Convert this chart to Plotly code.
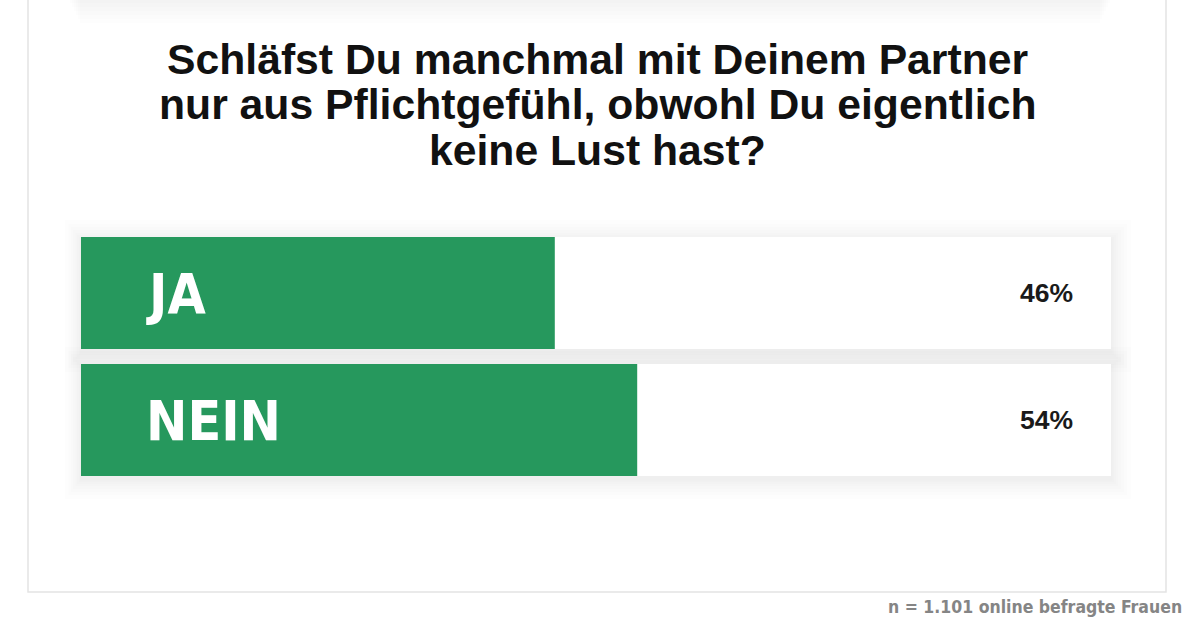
import plotly.graph_objects as go

# survey data
answers = ["JA", "NEIN"]
shares = [46, 54]
scale_max = [100, 100]
title_lines = [
    "Schläfst Du manchmal mit Deinem Partner",
    "nur aus Pflichtgefühl, obwohl Du eigentlich",
    "keine Lust hast?",
]
footnote = "n = 1.101 online befragte Frauen"

W, H = 1200, 627
GREEN = "#26985d"
BAR_W = 0.882
PX_X = 10.3     # pixels per percent point
PX_Y = 127      # pixels per category step
NARROW = "DejaVu Sans Condensed, Liberation Sans Narrow, sans-serif"
SANS = "Liberation Sans, Arial, sans-serif"


def py(px):
    # pixel row -> paper fraction
    return 1 - px / H


fig = go.Figure()

# soft shadow behind the white tracks, a few faint layers
for s in [20, 16, 13, 10, 7, 5, 3, 1.5]:
    grow = s / PX_Y
    fig.add_trace(go.Bar(
        y=answers, x=[m + s * 1.8 / PX_X for m in scale_max], base=-s * 0.8 / PX_X,
        orientation="h", width=BAR_W + 2 * grow,
        offset=-(BAR_W / 2 + grow) + 3 / PX_Y,
        marker=dict(color="rgba(40,40,40,0.008)", line=dict(width=0)),
        hoverinfo="skip", showlegend=False,
    ))

# white tracks
fig.add_trace(go.Bar(
    y=answers, x=scale_max, orientation="h", width=BAR_W,
    marker=dict(color="white", line=dict(width=0)),
    hoverinfo="skip", showlegend=False,
))

# green share bars
fig.add_trace(go.Bar(
    y=answers, x=shares, orientation="h", width=BAR_W,
    marker=dict(color=GREEN, line=dict(width=0)),
    showlegend=False,
))

annotations = []
for a, v in zip(answers, shares):
    annotations.append(dict(
        x=0, y=a, xref="x", yref="y", text=a, showarrow=False,
        xanchor="left", yanchor="middle", xshift=63, yshift=-1,
        font=dict(family=NARROW, size=55, color="white", weight="bold"),
    ))
    annotations.append(dict(
        x=100, y=a, xref="x", yref="y", text=f"{v}%", showarrow=False,
        xanchor="right", yanchor="middle", xshift=-36,
        font=dict(family=SANS, size=26.5, color="#1a1a1a", weight="bold"),
    ))

for i, line in enumerate(title_lines):
    annotations.append(dict(
        x=597 / W, y=py(59 + i * 45.5), xref="paper", yref="paper",
        text=line, showarrow=False, xanchor="center", yanchor="middle",
        font=dict(family=SANS, size=42.7, color="#111111", weight="bold"),
    ))

annotations.append(dict(
    x=1184 / W, y=py(607), xref="paper", yref="paper", text=footnote,
    showarrow=False, xanchor="right", yanchor="middle",
    font=dict(family=NARROW, size=17.5, color="#858585", weight="bold"),
))

shapes = []
# faint shadow band at the very top
for k in range(6):
    shapes.append(dict(
        type="rect", xref="paper", yref="paper", layer="below",
        x0=(70 + k * 2) / W, x1=(1110 - k * 2) / W, y0=py(3 + k * 4), y1=1.0,
        fillcolor="rgba(0,0,0,0.009)", line=dict(width=0),
    ))
# outer frame
shapes.append(dict(
    type="rect", xref="paper", yref="paper", layer="below",
    x0=28 / W, x1=1166 / W, y0=py(592), y1=1.02,
    fillcolor="rgba(0,0,0,0)", line=dict(color="#e4e4e4", width=1.5),
))

# axes are a bit wider than the tracks so the shadow is not clipped
x_left, x_right = 50, 1150
y_top, y_bot = 200, 515
fig.update_layout(
    width=W, height=H,
    margin=dict(l=0, r=0, t=0, b=0),
    paper_bgcolor="white", plot_bgcolor="rgba(0,0,0,0)",
    barmode="overlay",
    showlegend=False,
    xaxis=dict(domain=[x_left / W, x_right / W],
               range=[-(81 - x_left) / PX_X, 100 + (x_right - 1111) / PX_X],
               visible=False, fixedrange=True),
    yaxis=dict(domain=[py(y_bot), py(y_top)],
               range=[1 + (y_bot - 420) / PX_Y, -(293 - y_top) / PX_Y],
               type="category", visible=False, fixedrange=True),
    annotations=annotations,
    shapes=shapes,
)

fig.write_html("out.html", config={"displayModeBar": False},
               post_script="document.body.style.margin='0';")
